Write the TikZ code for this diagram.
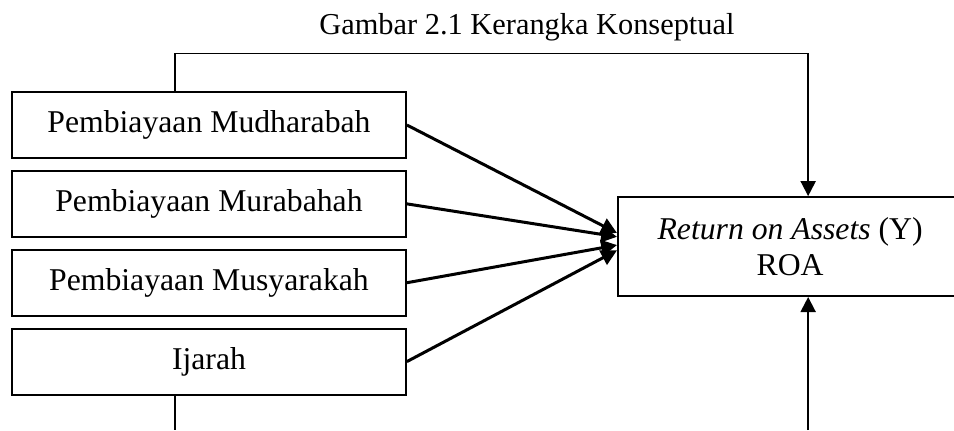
\documentclass[tikz,border=0pt]{standalone}
\usepackage{fontspec}
\setmainfont{Liberation Serif}
\usetikzlibrary{positioning,arrows.meta}
\tikzset{
  varbox/.style={draw, line width=0.025cm, minimum width=5.24cm, minimum height=0.878cm, inner sep=0pt, font=\fontsize{12}{13.5}\selectfont},
  linkarrow/.style={line width=0.04cm, -{Triangle[length=0.21cm,width=0.21cm]}},
  feedline/.style={line width=0.025cm},
  feedarrow/.style={feedline, -{Triangle[length=0.2cm,width=0.2cm]}},
}
\begin{document}
\begin{tikzpicture}
                \useasboundingbox (0,0) rectangle (12.69,5.72);
                \clip (0,0) rectangle (12.69,5.72);

                % Title of the figure
                \node [font=\fontsize{11.5}{13}\selectfont] (judul) at (7.01,5.36) {Gambar 2.1 Kerangka Konseptual};

                % Independent variables
                \node [varbox] (mudharabah) at (2.78,4.057) {Pembiayaan Mudharabah};
                \node [varbox, below=0.146cm of mudharabah] (murabahah) {Pembiayaan Murabahah};
                \node [varbox, below=0.146cm of murabahah] (musyarakah) {Pembiayaan Musyarakah};
                \node [varbox, below=0.146cm of musyarakah] (ijarah) {Ijarah};

                % Dependent variable
                \node [varbox, minimum width=4.58cm, minimum height=1.317cm, align=center] (roa) at (10.51,2.44) {\textit{Return on Assets} (Y)\\ROA};

                % Arrows into ROA
                \draw [linkarrow] (mudharabah.east) -- ([yshift=0.18cm]roa.west);
                \draw [linkarrow] (murabahah.east) -- ([yshift=0.13cm]roa.west);
                \draw [linkarrow] (musyarakah.east) -- ([yshift=0.02cm]roa.west);
                \draw [linkarrow] (ijarah.east) -- ([yshift=-0.05cm]roa.west);

                % Lines round the boxes
                \coordinate (kiri) at (2.33,0);
                \coordinate (kanan) at (10.75,0);
                \draw [feedarrow] (mudharabah.north -| kiri) -- ++(0,0.5) -| (roa.north -| kanan);
                \draw [feedline] (ijarah.south -| kiri) -- (kiri);
                \draw [feedarrow] (kanan) -- (roa.south -| kanan);
\end{tikzpicture}
\end{document}
